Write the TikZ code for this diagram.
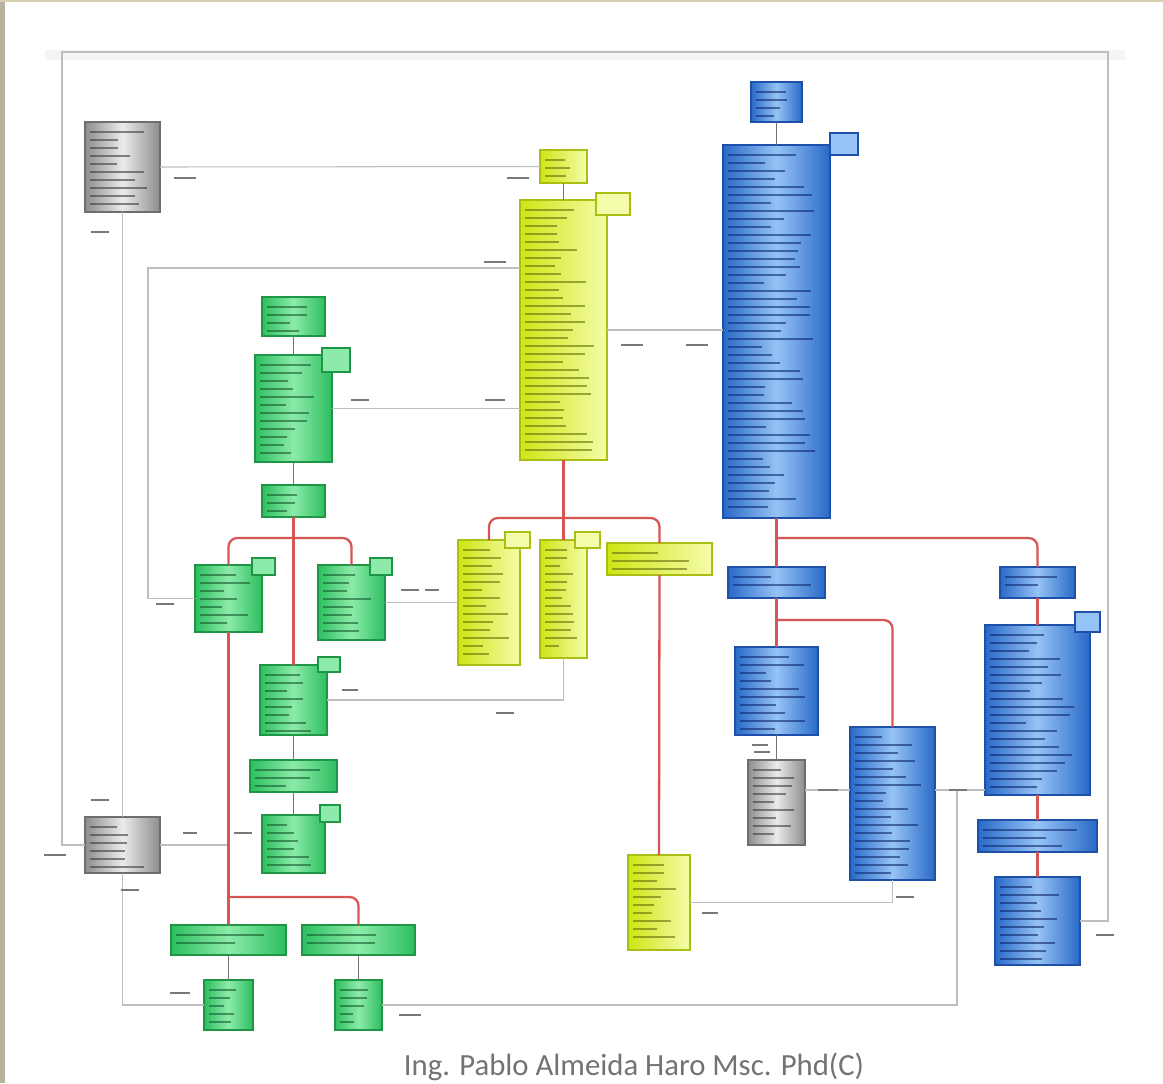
\documentclass[tikz,border=0pt]{standalone}
\usepackage{fontspec}
\setmainfont{Carlito}
\usetikzlibrary{calc}
\definecolor{grnD}{RGB}{45,190,95}
\definecolor{grnL}{RGB}{140,235,170}
\definecolor{grnB}{RGB}{30,150,70}
\definecolor{grnT}{RGB}{20,90,45}
\definecolor{yelD}{RGB}{205,230,20}
\definecolor{yelL}{RGB}{245,252,170}
\definecolor{yelB}{RGB}{170,190,20}
\definecolor{yelT}{RGB}{100,110,10}
\definecolor{bluD}{RGB}{40,105,200}
\definecolor{bluL}{RGB}{150,195,245}
\definecolor{bluB}{RGB}{30,80,170}
\definecolor{bluT}{RGB}{15,40,110}
\definecolor{gryD}{RGB}{140,140,140}
\definecolor{gryL}{RGB}{235,235,235}
\definecolor{gryB}{RGB}{110,110,110}
\definecolor{gryT}{RGB}{60,60,60}
\definecolor{redC}{RGB}{215,85,85}
\definecolor{conC}{RGB}{190,190,190}
\definecolor{lblC}{RGB}{120,120,120}
\definecolor{stripC}{RGB}{183,178,158}
\definecolor{topC}{RGB}{214,206,176}
\definecolor{footC}{RGB}{115,115,115}
\tikzset{
  clsbase/.style={rectangle, inner sep=0pt, outer sep=0pt, line width=0.9pt},
  gbox/.style={clsbase, draw=grnB, left color=grnD, right color=grnD, middle color=grnL},
  ybox/.style={clsbase, draw=yelB, left color=yelD, right color=yelL},
  bbox/.style={clsbase, draw=bluB, left color=bluD, right color=bluD, middle color=bluL},
  xbox/.style={clsbase, draw=gryB, left color=gryD, right color=gryD, middle color=gryL},
  gtab/.style={clsbase, draw=grnB, fill=grnL},
  ytab/.style={clsbase, draw=yelB, fill=yelL},
  btab/.style={clsbase, draw=bluB, fill=bluL},
  redl/.style={draw=redC, line width=1.3pt, rounded corners=5pt},
  darkl/.style={draw=black!55, line width=1.1pt},
  conl/.style={draw=conC, line width=0.6pt},
  txl/.style={line width=1.1pt, opacity=0.6},
}
% name, style, x1, y1, x2, y2, lines, line colour
\newcommand\cls[8]{%
  \node[#2, minimum width={(#5-#3)*0.02cm}, minimum height={(#6-#4)*0.02cm}] (#1) at ({(#3+#5)/2},{(#4+#6)/2}) {};
  \foreach \k in {1,...,#7}{%
    \pgfmathsetmacro\lnlen{(#5-#3-10)*(0.35+0.55*rnd)}
    \draw[txl, draw=#8] ({#3+5},{#4+2+\k*8}) -- ++(\lnlen,0);
  }%
}
\newcommand\tabbox[6]{%
  \node[#2, minimum width={(#5-#3)*0.02cm}, minimum height={(#6-#4)*0.02cm}] (#1) at ({(#3+#5)/2},{(#4+#6)/2}) {};
}
\newcommand\lbl[3]{\fill[lblC] ({#1-#3/2},{#2-1}) rectangle ({#1+#3/2},{#2+1});}
\begin{document}
\begin{tikzpicture}[x=0.02cm, y=-0.02cm]
\pgfmathsetseed{7}
\useasboundingbox (0,0) rectangle (1163,1083);
\fill[white] (0,0) rectangle (1163,1083);
\fill[stripC] (0,0) rectangle (5,1083);
\fill[topC] (0,0) rectangle (1163,2);
\fill[black!4] (45,50) rectangle (1125,60);

% coordinates
\coordinate (TL) at (62,52);
\coordinate (TR) at (1108,52);
\coordinate (L1) at (148,598.5);
\coordinate (r790) at (0,790);
\coordinate (HJ) at (957,790);
\coordinate (yBr) at (563.5,518);
\coordinate (gBr) at (293.5,538);
\coordinate (g4Br) at (228.5,897);
\coordinate (bBr) at (776.5,538);
\coordinate (bBr2) at (776.5,620);

% ---- classes ----
\cls{gA}{xbox}{85}{122}{160}{212}{10}{gryT}
\cls{y1}{ybox}{540}{150}{587}{183}{3}{yelT}
\cls{Y}{ybox}{520}{200}{607}{460}{31}{yelT}
\tabbox{yT}{ytab}{596}{193}{630}{215}
\cls{b1}{bbox}{751}{82}{802}{122}{4}{bluT}
\cls{B}{bbox}{723}{145}{830}{518}{45}{bluT}
\tabbox{bT}{btab}{830}{133}{858}{155}
\cls{g1}{gbox}{262}{297}{325}{336}{4}{grnT}
\cls{g2}{gbox}{255}{355}{332}{462}{12}{grnT}
\tabbox{g2T}{gtab}{322}{348}{350}{372}
\cls{g3}{gbox}{262}{485}{325}{517}{3}{grnT}
\cls{g4}{gbox}{195}{565}{262}{632}{7}{grnT}
\tabbox{g4T}{gtab}{252}{558}{275}{575}
\cls{g5}{gbox}{318}{565}{385}{640}{8}{grnT}
\tabbox{g5T}{gtab}{370}{558}{392}{575}
\cls{g6}{gbox}{260}{665}{327}{735}{8}{grnT}
\tabbox{g6T}{gtab}{318}{657}{340}{672}
\cls{g7}{gbox}{250}{760}{337}{792}{3}{grnT}
\cls{g8}{gbox}{262}{815}{325}{873}{6}{grnT}
\tabbox{g8T}{gtab}{320}{805}{340}{822}
\cls{g9}{gbox}{171}{925}{286}{955}{2}{grnT}
\cls{g10}{gbox}{302}{925}{415}{955}{2}{grnT}
\cls{g11}{gbox}{204}{980}{253}{1030}{5}{grnT}
\cls{g12}{gbox}{335}{980}{382}{1030}{5}{grnT}
\cls{gB}{xbox}{85}{817}{160}{873}{6}{gryT}
\cls{yA}{ybox}{458}{540}{520}{665}{14}{yelT}
\tabbox{yAT}{ytab}{505}{532}{530}{548}
\cls{yB}{ybox}{540}{540}{587}{658}{13}{yelT}
\tabbox{yBT}{ytab}{575}{532}{600}{548}
\cls{yC}{ybox}{607}{543}{712}{575}{3}{yelT}
\cls{yD}{ybox}{628}{855}{690}{950}{10}{yelT}
\cls{bE}{bbox}{1000}{567}{1075}{598}{2}{bluT}
\cls{bF}{bbox}{728}{567}{825}{598}{2}{bluT}
\cls{bG}{bbox}{735}{647}{818}{735}{10}{bluT}
\cls{xI}{xbox}{748}{760}{805}{845}{9}{gryT}
\cls{bH}{bbox}{850}{727}{935}{880}{18}{bluT}
\cls{bJ}{bbox}{985}{625}{1090}{795}{20}{bluT}
\tabbox{bJT}{btab}{1075}{612}{1100}{632}
\cls{bK}{bbox}{978}{820}{1097}{852}{3}{bluT}
\cls{bL}{bbox}{995}{877}{1080}{965}{10}{bluT}

% ---- thin connectors ----
\draw[conl] (gA.east) -- (y1.west);
\draw[conl] ($(Y.north west)+(0,68)$) -| (L1) -- (g4.west);
\draw[conl] (Y.east) -- (Y.east -| B.west);
\draw[conl] (g2.east) -- (g2.east -| Y.west);
\draw[conl] (g5.east) -- (g5.east -| yA.west);
\draw[conl] (g6.east) -| (yB.south);
\draw[conl] (gA.south) -- (gB.north);
\draw[conl] (gB.west) -| (TL) -- (TR) |- (bL.east);
\draw[conl] (gB.south) |- (g11.west);
\draw[conl] (gB.east) -- (gB.east -| g4.south);
\draw[conl] (xI.east |- r790) -- (bH.west |- r790);
\draw[conl] (bH.east |- r790) -- (bJ.west |- r790);
\draw[conl] (g12.east) -| (HJ);
\draw[conl] (yD.east) -| (bH.south);

% ---- red trees ----
\draw[redl] (Y.south) -- (yB.north);
\draw[redl] (yBr) -| (yA.north);
\draw[redl] (yBr) -| (yC.north);
\draw[redl] (yC.south) -- (yD.north);
\draw[redl] (g3.south) -- (g6.north);
\draw[redl] (gBr) -| (g4.north);
\draw[redl] (gBr) -| (g5.north);
\draw[redl] (g4.south) -- (g9.north);
\draw[redl] (g4Br) -| (g10.north);
\draw[redl] (B.south) -- (bF.north);
\draw[redl] (bBr) -| (bE.north);
\draw[redl] (bF.south) -- (bG.north);
\draw[redl] (bBr2) -| (bH.north);
\draw[redl] (bE.south) -- (bJ.north);
\draw[redl] (bJ.south) -- (bK.north);
\draw[redl] (bK.south) -- (bL.north);

% ---- short dark links ----
\draw[darkl] (y1.south) -- (Y.north);
\draw[darkl] (b1.south) -- (B.north);
\draw[darkl] (g1.south) -- (g2.north);
\draw[darkl] (g2.south) -- (g3.north);
\draw[darkl] (g6.south) -- (g7.north);
\draw[darkl] (g7.south) -- (g8.north);
\draw[darkl] (g9.south) -- (g11.north);
\draw[darkl] (g10.south) -- (g12.north);
\draw[darkl] (bG.south) -- (xI.north);

% ---- small connector labels ----
\lbl{185}{178}{22} \lbl{518}{178}{22} \lbl{495}{262}{22} \lbl{165}{604}{18}
\lbl{632}{345}{22} \lbl{697}{345}{22} \lbl{360}{400}{18} \lbl{495}{400}{20}
\lbl{410}{590}{18} \lbl{432}{590}{14} \lbl{350}{690}{16} \lbl{505}{713}{18}
\lbl{100}{232}{18} \lbl{100}{800}{18} \lbl{55}{855}{22} \lbl{130}{890}{18}
\lbl{190}{833}{14} \lbl{243}{833}{18} \lbl{180}{993}{20} \lbl{410}{1015}{22}
\lbl{760}{745}{16} \lbl{762}{752}{16} \lbl{828}{790}{20} \lbl{958}{790}{18}
\lbl{710}{913}{16} \lbl{905}{897}{18} \lbl{1105}{935}{18}

% ---- footer ----
\node[anchor=base, text=footC, font=\fontsize{17.5}{20}\selectfont, inner sep=0pt] (foot) at (634,1075) {Ing. Pablo Almeida Haro Msc. Phd(C)};
\end{tikzpicture}
\end{document}
